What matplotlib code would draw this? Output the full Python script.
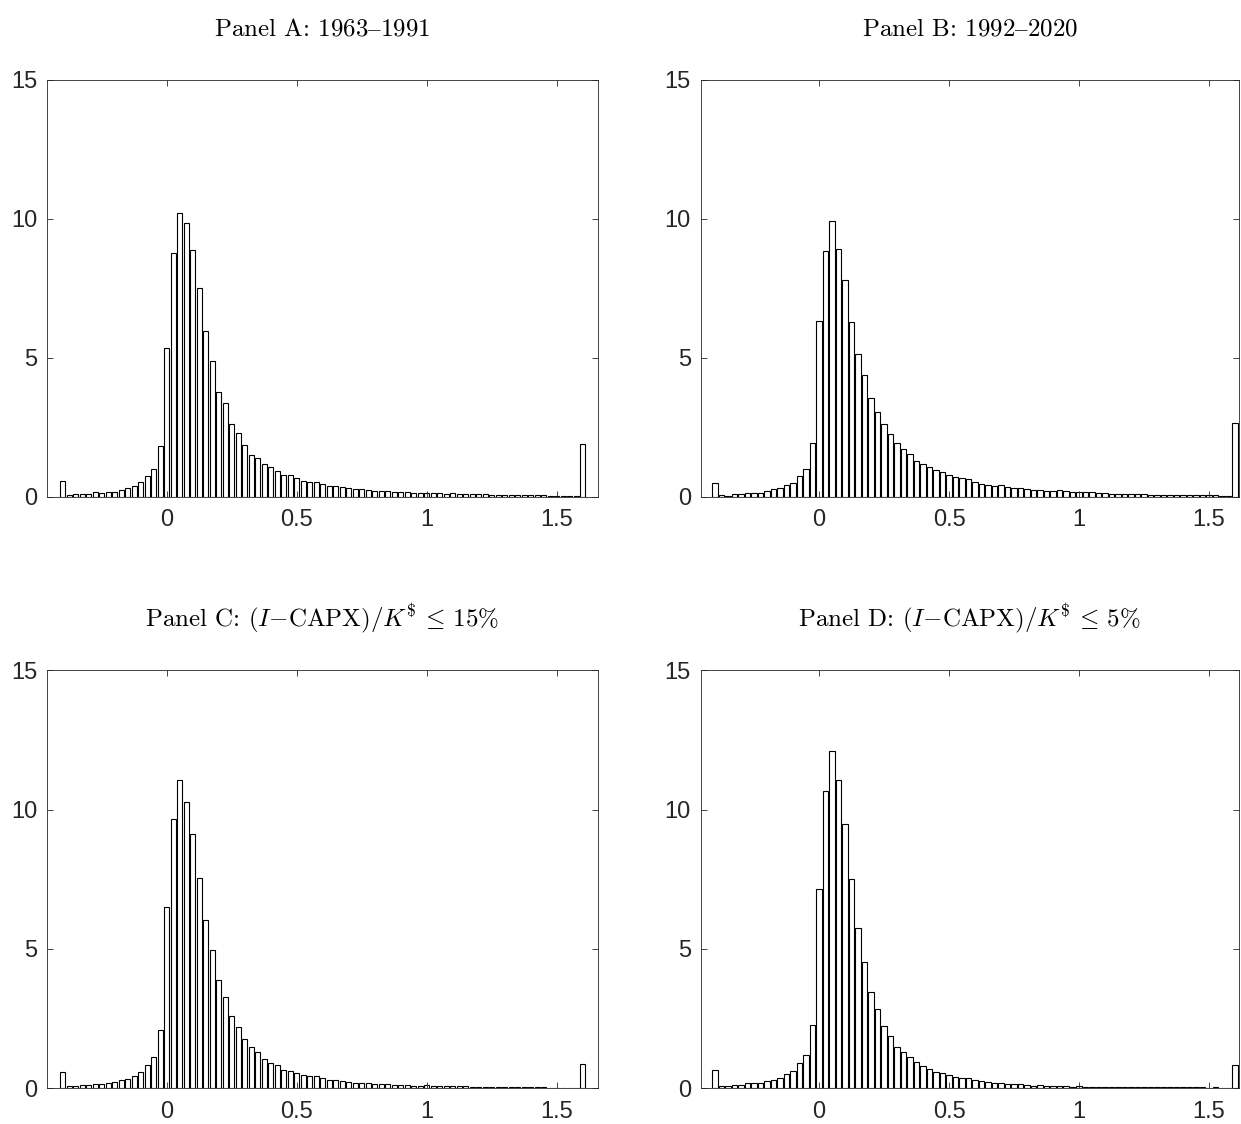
import numpy as np
import matplotlib
matplotlib.use("Agg")
import matplotlib.pyplot as plt

plt.rcParams['mathtext.fontset'] = 'cm'
plt.rcParams['font.family'] = ['Liberation Sans', 'DejaVu Sans']

# bin centres -0.4 .. 1.6, step 0.025
bins = np.round(np.arange(-0.4, 1.6001, 0.025), 3)

panel_a = [0.56, 0.06, 0.10, 0.11, 0.11, 0.16, 0.13, 0.17, 0.17, 0.23,
           0.30, 0.38, 0.53, 0.74, 0.98, 1.81, 5.35, 8.75, 10.19, 9.83,
           8.87, 7.52, 5.96, 4.87, 3.78, 3.36, 2.61, 2.29, 1.86, 1.51,
           1.41, 1.19, 1.06, 0.94, 0.77, 0.79, 0.68, 0.58, 0.53, 0.54,
           0.46, 0.40, 0.37, 0.34, 0.31, 0.26, 0.26, 0.24, 0.22, 0.21,
           0.19, 0.16, 0.17, 0.16, 0.12, 0.13, 0.14, 0.12, 0.12, 0.10,
           0.12, 0.10, 0.08, 0.10, 0.11, 0.08, 0.06, 0.06, 0.06, 0.05,
           0.05, 0.05, 0.05, 0.05, 0.05, 0.04, 0.04, 0.03, 0.01, 0.02,
           1.88]

panel_b = [0.51, 0.06, 0.04, 0.08, 0.08, 0.12, 0.14, 0.14, 0.22, 0.26,
           0.30, 0.42, 0.51, 0.74, 1.01, 1.94, 6.32, 8.83, 9.92, 8.92,
           7.80, 6.29, 5.15, 4.37, 3.56, 3.03, 2.60, 2.26, 1.92, 1.70,
           1.52, 1.29, 1.16, 1.07, 0.95, 0.88, 0.77, 0.70, 0.66, 0.62,
           0.52, 0.44, 0.41, 0.37, 0.41, 0.34, 0.32, 0.30, 0.26, 0.25,
           0.23, 0.22, 0.19, 0.23, 0.19, 0.18, 0.16, 0.16, 0.16, 0.13,
           0.12, 0.11, 0.11, 0.11, 0.11, 0.08, 0.08, 0.07, 0.07, 0.07,
           0.07, 0.06, 0.06, 0.07, 0.06, 0.06, 0.06, 0.05, 0.04, 0.02,
           2.64]

panel_c = [0.60, 0.07, 0.07, 0.11, 0.11, 0.16, 0.17, 0.18, 0.23, 0.28,
           0.33, 0.45, 0.59, 0.83, 1.11, 2.08, 6.50, 9.67, 11.05, 10.29,
           9.11, 7.54, 6.04, 4.98, 3.88, 3.28, 2.60, 2.21, 1.76, 1.50,
           1.32, 1.06, 0.91, 0.83, 0.66, 0.63, 0.54, 0.47, 0.44, 0.44,
           0.36, 0.31, 0.29, 0.26, 0.24, 0.19, 0.19, 0.18, 0.17, 0.14,
           0.14, 0.12, 0.12, 0.13, 0.10, 0.10, 0.11, 0.08, 0.07, 0.07,
           0.07, 0.07, 0.07, 0.06, 0.05, 0.05, 0.05, 0.05, 0.04, 0.04,
           0.04, 0.03, 0.03, 0.03, 0.03, 0.02, 0.02, 0.02, 0.01, 0.01,
           0.87]

panel_d = [0.65, 0.08, 0.10, 0.13, 0.13, 0.18, 0.18, 0.20, 0.25, 0.30,
           0.37, 0.50, 0.63, 0.90, 1.21, 2.28, 7.14, 10.67, 12.10, 11.05,
           9.49, 7.50, 5.77, 4.52, 3.44, 2.83, 2.22, 1.87, 1.50, 1.30,
           1.14, 0.93, 0.80, 0.69, 0.59, 0.54, 0.47, 0.42, 0.36, 0.38,
           0.30, 0.25, 0.24, 0.20, 0.20, 0.16, 0.14, 0.14, 0.13, 0.10,
           0.11, 0.10, 0.10, 0.10, 0.07, 0.06, 0.07, 0.06, 0.06, 0.05,
           0.06, 0.05, 0.05, 0.05, 0.05, 0.04, 0.04, 0.04, 0.03, 0.03,
           0.03, 0.03, 0.03, 0.03, 0.03, 0.03, 0.02, 0.03, 0.02, 0.02,
           0.82]

# titles: plain part in cmr10, formulas in mathtext (cm)
titles = [r'Panel A: 1963$\mathrm{–}$1991',
          r'Panel B: 1992$\mathrm{–}$2020',
          r'Panel C: $(I{-}\mathrm{CAPX})/K^{\$}\,\leq\,15\%$',
          r'Panel D: $(I{-}\mathrm{CAPX})/K^{\$}\,\leq\,5\%$']

W, H = 1241, 1124
fig = plt.figure(figsize=(W / 100, H / 100), dpi=100)

# axes boxes in pixels: left, right, top, bottom
boxes = [(47, 597.7, 79.7, 496.7), (700.7, 1239, 79.7, 496.7),
         (47, 597.7, 670.3, 1088.3), (700.7, 1239, 670.3, 1088.3)]
xlims = [(-0.46, 1.658), (-0.455, 1.615), (-0.46, 1.658), (-0.455, 1.615)]

gray = '#262626'
for data, title, box, xl in zip([panel_a, panel_b, panel_c, panel_d], titles, boxes, xlims):
    assert len(data) == len(bins)
    l, r, t, b = box
    ax = fig.add_axes([l / W, 1 - b / H, (r - l) / W, (b - t) / H])
    ax.bar(bins, data, width=0.02, color='white', edgecolor='black', linewidth=0.8)
    ax.set_xlim(xl)
    ax.set_ylim(0, 15)
    ax.set_xticks([0, 0.5, 1, 1.5])
    ax.set_xticklabels(['0', '0.5', '1', '1.5'])
    ax.set_yticks([0, 5, 10, 15])
    ax.tick_params(direction='in', top=True, right=True, length=4.5, width=0.6,
                   colors=gray, labelsize=17)
    ax.tick_params(axis='x', pad=9)
    ax.tick_params(axis='y', pad=7)
    for s in ax.spines.values():
        s.set_color(gray)
        s.set_linewidth(0.6)
    ax.set_title(title, fontsize=18, pad=32, color='black', family='cmr10')

fig.savefig('out.png', dpi=100)
